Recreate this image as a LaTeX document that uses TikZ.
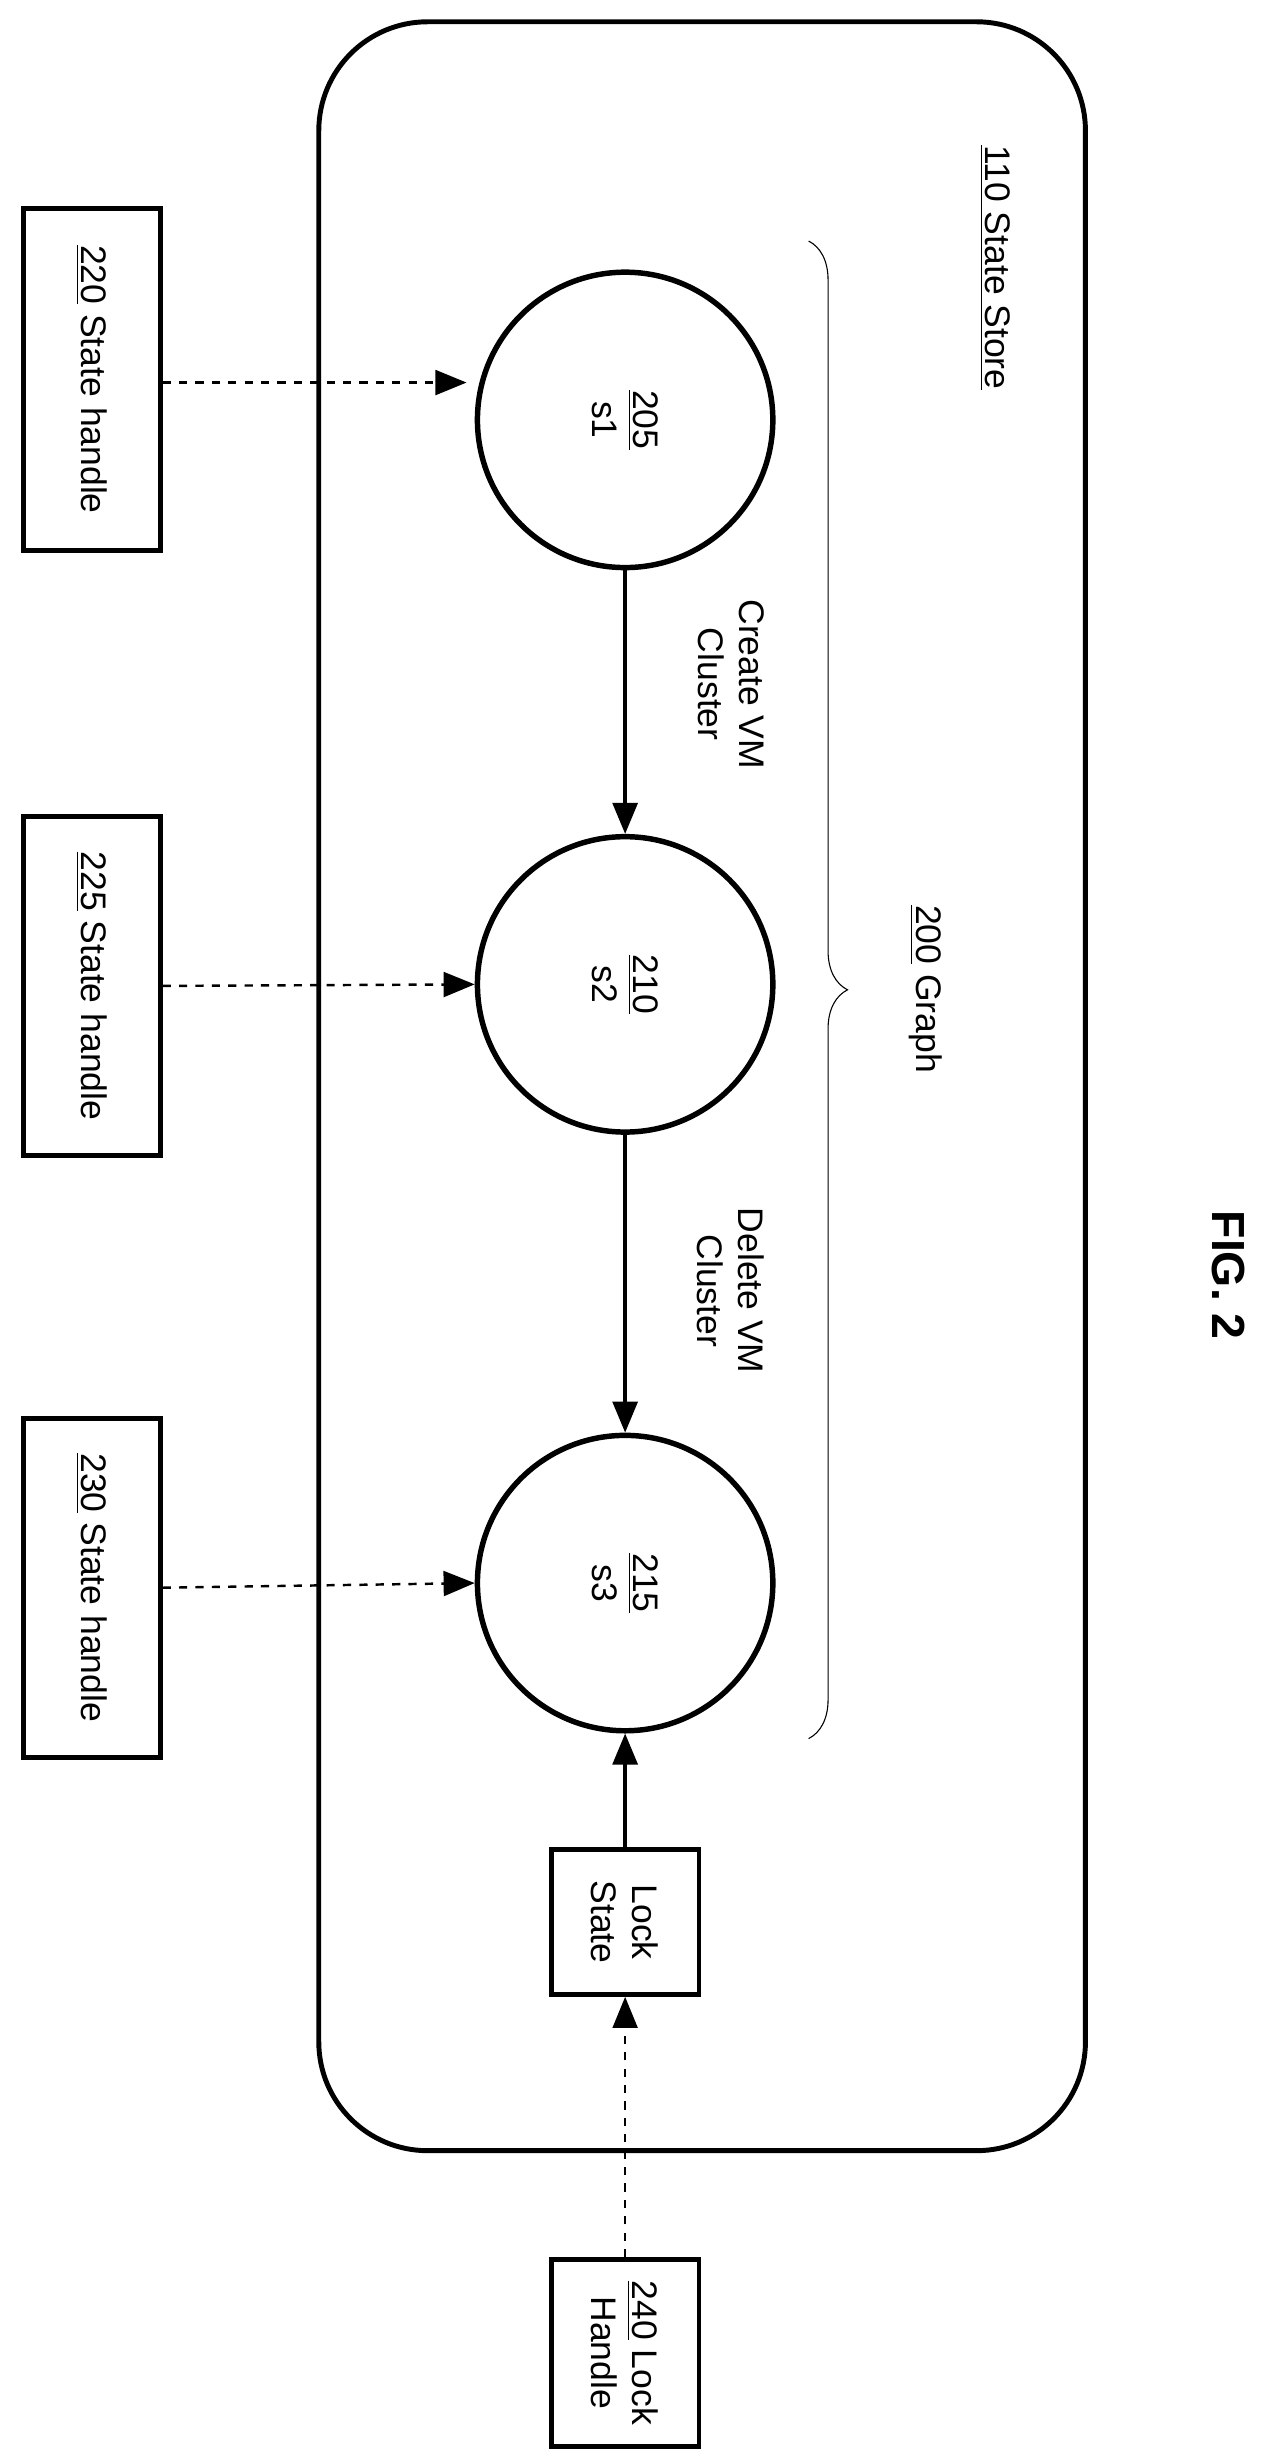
\documentclass[tikz,border=0pt]{standalone}
\usepackage{fontspec}
\setmainfont{Liberation Sans}
\usetikzlibrary{arrows.meta,decorations.pathreplacing}
\begin{document}
\begin{tikzpicture}[x=0.02cm,y=-0.02cm,
  every node/.style={font=\fontsize{13pt}{15pt}\selectfont},
  tip/.style={-{Triangle[length=0.4cm,width=0.32cm]}},
  dsh/.style={dashed,line width=0.9pt,tip},
  st/.style={circle,draw,line width=2pt,minimum size=3.8cm,inner sep=0pt},
  bx/.style={draw,line width=1.8pt,inner sep=0pt,align=center},
  rt/.style={rotate=-90,align=center}]
\useasboundingbox (0,0) rectangle (822,1580);
\draw[line width=1.8pt,rounded corners=1.4cm] (205,14) rectangle (698,1383);
\node[rt] (store) at (640,172) {\underline{110 State Store}};
\node[st] (s1) at (402,270) {};
\node[rt] at (s1) {\underline{205}\\s1};
\node[st] (s2) at (402,633) {};
\node[rt] at (s2) {\underline{210}\\s2};
\node[st] (s3) at (402,1018) {};
\node[rt] at (s3) {\underline{215}\\s3};
\node[bx,minimum width=1.76cm,minimum height=4.4cm] (h1) at (59,244) {};
\node[rt] at (h1) {\underline{220} State handle};
\node[bx,minimum width=1.76cm,minimum height=4.36cm] (h2) at (59,634) {};
\node[rt] at (h2) {\underline{225} State handle};
\node[bx,minimum width=1.76cm,minimum height=4.36cm] (h3) at (59,1021) {};
\node[rt] at (h3) {\underline{230} State handle};
\node[bx,minimum width=1.9cm,minimum height=1.86cm] (lock) at (402,1236) {};
\node[rt] at (lock) {Lock\\State};
\node[bx,minimum width=1.9cm,minimum height=2.4cm] (lh) at (402,1513) {};
\node[rt] at (lh) {\underline{240} Lock\\Handle};
\draw[dsh] (h1.east |- 0,246) -- (300,246) coordinate (c1);
\draw[dsh] (h2.east) -- (s2.west);
\draw[dsh] (h3.east) -- (s3.west);
\draw[line width=1.3pt,tip] (s1) ++(0,95) -- (s2.north);
\draw[line width=1.3pt,tip] (s2) ++(0,95) -- (s3.north);
\draw[line width=1.3pt,tip] (lock.north) -- (s3.south);
\draw[dsh] (lh.north) -- (lock.south);
\node[rt] (e1) at (470,440) {Create VM\\Cluster};
\node[rt] (e2) at (470,830) {Delete VM\\Cluster};
\draw[decorate,decoration={brace,amplitude=0.5cm}] (520,155) -- (520,1118);
\node[rt] (g) at (595,636) {\underline{200} Graph};
\node[rotate=-90,font=\fontsize{17pt}{19pt}\selectfont\bfseries] (fig) at (790,820) {FIG. 2};
\end{tikzpicture}
\end{document}
